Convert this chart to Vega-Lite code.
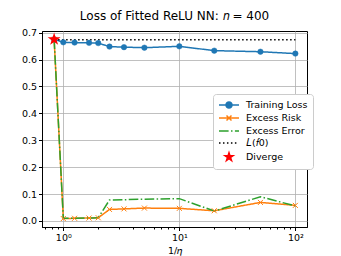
{
  "$schema": "https://vega.github.io/schema/vega-lite/v6.json",
  "autosize": "none",
  "width": 265,
  "height": 196,
  "padding": {"left": 42, "top": 31, "right": 34, "bottom": 29},
  "background": "white",
  "title": {"text": "Loss of Fitted ReLU NN: 𝑛 = 400", "font": "DejaVu Sans", "fontSize": 12, "fontWeight": "normal", "color": "black", "offset": 5, "anchor": "middle"},
  "config": {
    "view": {"stroke": "black", "strokeWidth": 1},
    "axis": {"labelFont": "DejaVu Sans", "labelFontSize": 9.5, "labelColor": "black", "titleFont": "DejaVu Sans", "titleFontSize": 9.5, "titleFontWeight": "normal", "titleColor": "black", "domainColor": "black", "tickColor": "black", "gridColor": "#b0b0b0", "gridWidth": 0.8, "tickSize": 3.5, "labelPadding": 2}
  },
  "data": {"values": [
    {"x": 0.8333, "y": 0.675, "s": "Training Loss"},
    {"x": 1, "y": 0.664, "s": "Training Loss"},
    {"x": 1.25, "y": 0.663, "s": "Training Loss"},
    {"x": 1.6667, "y": 0.662, "s": "Training Loss"},
    {"x": 2, "y": 0.661, "s": "Training Loss"},
    {"x": 2.5, "y": 0.648, "s": "Training Loss"},
    {"x": 3.3333, "y": 0.646, "s": "Training Loss"},
    {"x": 5, "y": 0.644, "s": "Training Loss"},
    {"x": 10, "y": 0.649, "s": "Training Loss"},
    {"x": 20, "y": 0.633, "s": "Training Loss"},
    {"x": 50, "y": 0.629, "s": "Training Loss"},
    {"x": 100, "y": 0.622, "s": "Training Loss"},
    {"x": 0.8333, "y": 0.675, "s": "Excess Risk"},
    {"x": 1, "y": 0.009, "s": "Excess Risk"},
    {"x": 1.25, "y": 0.010, "s": "Excess Risk"},
    {"x": 1.6667, "y": 0.011, "s": "Excess Risk"},
    {"x": 2, "y": 0.012, "s": "Excess Risk"},
    {"x": 2.5, "y": 0.043, "s": "Excess Risk"},
    {"x": 3.3333, "y": 0.045, "s": "Excess Risk"},
    {"x": 5, "y": 0.048, "s": "Excess Risk"},
    {"x": 10, "y": 0.047, "s": "Excess Risk"},
    {"x": 20, "y": 0.038, "s": "Excess Risk"},
    {"x": 50, "y": 0.069, "s": "Excess Risk"},
    {"x": 100, "y": 0.058, "s": "Excess Risk"},
    {"x": 0.8333, "y": 0.675, "s": "Excess Error"},
    {"x": 1, "y": 0.010, "s": "Excess Error"},
    {"x": 1.25, "y": 0.010, "s": "Excess Error"},
    {"x": 1.6667, "y": 0.011, "s": "Excess Error"},
    {"x": 2, "y": 0.012, "s": "Excess Error"},
    {"x": 2.5, "y": 0.078, "s": "Excess Error"},
    {"x": 3.3333, "y": 0.079, "s": "Excess Error"},
    {"x": 5, "y": 0.081, "s": "Excess Error"},
    {"x": 10, "y": 0.083, "s": "Excess Error"},
    {"x": 20, "y": 0.037, "s": "Excess Error"},
    {"x": 50, "y": 0.090, "s": "Excess Error"},
    {"x": 100, "y": 0.056, "s": "Excess Error"},
    {"x": 0.8333, "y": 0.6735, "s": "𝐿(𝑓0)"},
    {"x": 100, "y": 0.6735, "s": "𝐿(𝑓0)"},
    {"x": 0.8333, "y": 0.675, "s": "Diverge"}
  ]},
  "encoding": {
    "x": {"field": "x", "type": "quantitative", "scale": {"type": "log", "domain": [0.655, 126], "nice": false},
      "axis": {"values": [0.7, 0.8, 0.9, 1, 2, 3, 4, 5, 6, 7, 8, 9, 10, 20, 30, 40, 50, 60, 70, 80, 90, 100],
        "labelExpr": "datum.value == 1 ? '10⁰' : datum.value == 10 ? '10¹' : datum.value == 100 ? '10²' : ''",
        "labelOverlap": false, "labelFlush": false, "title": "1/𝜂", "titlePadding": 3,
        "tickSize": {"condition": {"test": "datum.value == 1 || datum.value == 10 || datum.value == 100", "value": 3.5}, "value": 2},
        "gridOpacity": {"condition": {"test": "datum.value == 1 || datum.value == 10 || datum.value == 100", "value": 1}, "value": 0}}},
    "y": {"field": "y", "type": "quantitative", "scale": {"domain": [-0.0223, 0.706], "nice": false},
      "axis": {"values": [0, 0.1, 0.2, 0.3, 0.4, 0.5, 0.6, 0.7], "format": ".1f", "title": null}}
  },
  "layer": [
    {
      "transform": [{"filter": "datum.s != 'Diverge'"}],
      "mark": {"type": "line", "strokeWidth": 1.5},
      "encoding": {
        "color": {"field": "s", "type": "nominal", "legend": null,
          "scale": {"domain": ["Training Loss", "Excess Risk", "Excess Error", "𝐿(𝑓0)"], "range": ["#1f77b4", "#ff7f0e", "#2ca02c", "black"]}},
        "strokeDash": {"field": "s", "type": "nominal", "legend": null,
          "scale": {"domain": ["Training Loss", "Excess Risk", "Excess Error", "𝐿(𝑓0)"], "range": [[1, 0], [1, 0], [9.6, 2.4, 1.5, 2.4], [1.5, 2.5]]}}
      }
    },
    {
      "transform": [{"filter": "datum.s == 'Training Loss'"}],
      "mark": {"type": "point", "shape": "circle", "filled": true, "size": 30, "fill": "#1f77b4", "stroke": "#1f77b4", "strokeWidth": 0.5, "opacity": 1}
    },
    {
      "transform": [{"filter": "datum.s == 'Excess Risk'"}],
      "mark": {"type": "point", "shape": "M-1,-1L1,1M-1,1L1,-1", "filled": false, "size": 25, "color": "#ff7f0e", "strokeWidth": 1, "opacity": 1}
    },
    {
      "transform": [{"filter": "datum.s == 'Diverge'"}],
      "mark": {"type": "point", "shape": "M0,-1L0.2245,-0.309L0.951,-0.309L0.363,0.118L0.588,0.809L0,0.382L-0.588,0.809L-0.363,0.118L-0.951,-0.309L-0.2245,-0.309Z", "filled": true, "size": 185, "color": "red", "opacity": 1}
    },
    {
      "mark": {"type": "point", "filled": true, "opacity": 0, "size": 100, "strokeWidth": 1.5},
      "encoding": {
        "shape": {"field": "s", "type": "nominal",
          "scale": {"domain": ["Training Loss", "Excess Risk", "Excess Error", "𝐿(𝑓0)", "Diverge"],
            "range": [
              "M-1,0H3M1.6,0L1.554,0.23L1.424,0.424L1.23,0.554L1,0.6L0.77,0.554L0.576,0.424L0.446,0.23L0.4,0L0.446,-0.23L0.576,-0.424L0.77,-0.554L1,-0.6L1.23,-0.554L1.424,-0.424L1.554,-0.23Z",
              "M-1,0H3M0.5,-0.5L1.5,0.5M0.5,0.5L1.5,-0.5",
              "M-1,0H0.92M1.4,0H1.7M2.18,0H3",
              "M-1,0H-0.7M-0.205,0H0.095M0.59,0H0.89M1.385,0H1.685M2.18,0H2.48",
              "M1,-0.85L1.191,-0.263L1.808,-0.263L1.309,0.1L1.5,0.688L1,0.325L0.5,0.688L0.691,0.1L0.192,-0.263L0.809,-0.263Z"
            ]},
          "legend": {"title": null, "orient": "none", "legendX": 171, "legendY": 63, "symbolSize": 100, "symbolStrokeWidth": 1.5, "symbolOpacity": 1, "labelOffset": 16, "labelFont": "DejaVu Sans", "labelFontSize": 9.5, "labelColor": "black", "rowPadding": 1, "padding": 5, "fillColor": "white", "strokeColor": "#cccccc", "cornerRadius": 3}},
        "stroke": {"field": "s", "type": "nominal",
          "scale": {"domain": ["Training Loss", "Excess Risk", "Excess Error", "𝐿(𝑓0)", "Diverge"], "range": ["#1f77b4", "#ff7f0e", "#2ca02c", "black", "red"]}},
        "fill": {"field": "s", "type": "nominal",
          "scale": {"domain": ["Training Loss", "Excess Risk", "Excess Error", "𝐿(𝑓0)", "Diverge"], "range": ["#1f77b4", "transparent", "transparent", "transparent", "red"]}}
      }
    }
  ]
}
